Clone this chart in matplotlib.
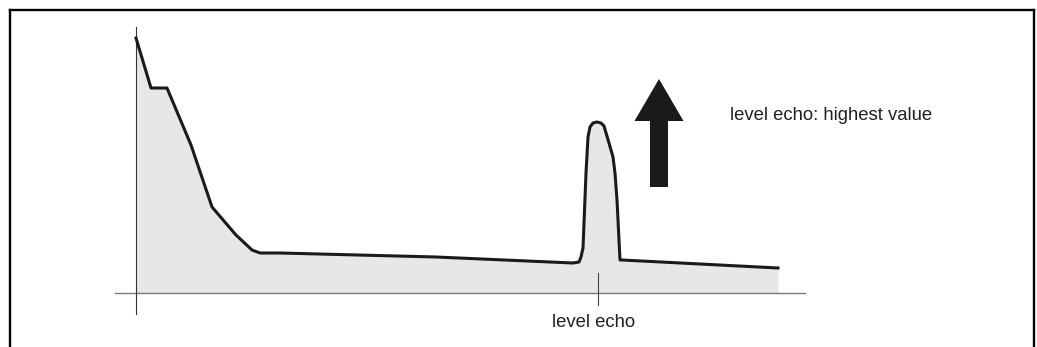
"""Echo curve sketch: level echo picked as the highest value."""
import matplotlib
matplotlib.use("Agg")
import matplotlib.pyplot as plt
from matplotlib.lines import Line2D
from matplotlib.patches import FancyArrow

# echo envelope (distance, amplitude)
distance = [0, 15, 31, 55, 76, 100, 116, 124, 144, 300, 437, 443, 445, 447,
            450, 452, 454, 457, 461, 465, 468, 473, 477, 479, 481, 484, 486, 642]
amplitude = [255, 205, 205, 148, 86, 58, 43, 40, 40, 36, 30, 31, 36, 45,
             120, 156, 166, 170, 171, 170, 167, 150, 136, 120, 93, 33, 33, 25]

level_echo_x = 462
level_label = "level echo"
note_label = "level echo: highest value"

W, H, DPI = 1037, 347, 100
fig = plt.figure(figsize=(W / DPI, H / DPI), dpi=DPI)
ax = fig.add_axes([0, 0, 1, 1])
ax.set_xlim(-136, W - 136)
ax.set_ylim(293 - H, 293)
ax.axis("off")

text_color = "#231f20"

# outer frame (top, left, right)
for xs, ys in [((10 / W, 1033.5 / W), (1 - 9.5 / H, 1 - 9.5 / H)),
               ((10 / W, 10 / W), (1 - 9.5 / H, 0)),
               ((1033.5 / W, 1033.5 / W), (1 - 9.5 / H, 0))]:
    fig.add_artist(Line2D(xs, ys, transform=fig.transFigure, color="black", lw=1.7))

ax.fill_between(distance, amplitude, 0, color="#e6e7e8", lw=0, zorder=1)
ax.plot([-21, 669], [0, 0], color="#7a7a7a", lw=1.0, zorder=2)
ax.plot([0, 0], [266, -21], color="#333333", lw=0.8, zorder=2)
ax.plot(distance, amplitude, color="#1a1a1a", lw=2.2, solid_joinstyle="round", zorder=3)

# level echo marker
ax.plot([level_echo_x, level_echo_x], [20, -12], color="#444444", lw=0.8, zorder=2)
ax.text(level_echo_x - 4, -34, level_label, ha="center", va="baseline",
        fontsize=13.3, family="Liberation Sans", color=text_color)

arrow = FancyArrow(523, 106, 0, 108, width=18, head_width=49, head_length=42,
                   length_includes_head=True, color="#1a1a1a", lw=0)
ax.add_patch(arrow)
ax.text(594, 173, note_label, ha="left", va="baseline",
        fontsize=13.3, family="Liberation Sans", color=text_color)

fig.savefig("out.png", dpi=DPI)
